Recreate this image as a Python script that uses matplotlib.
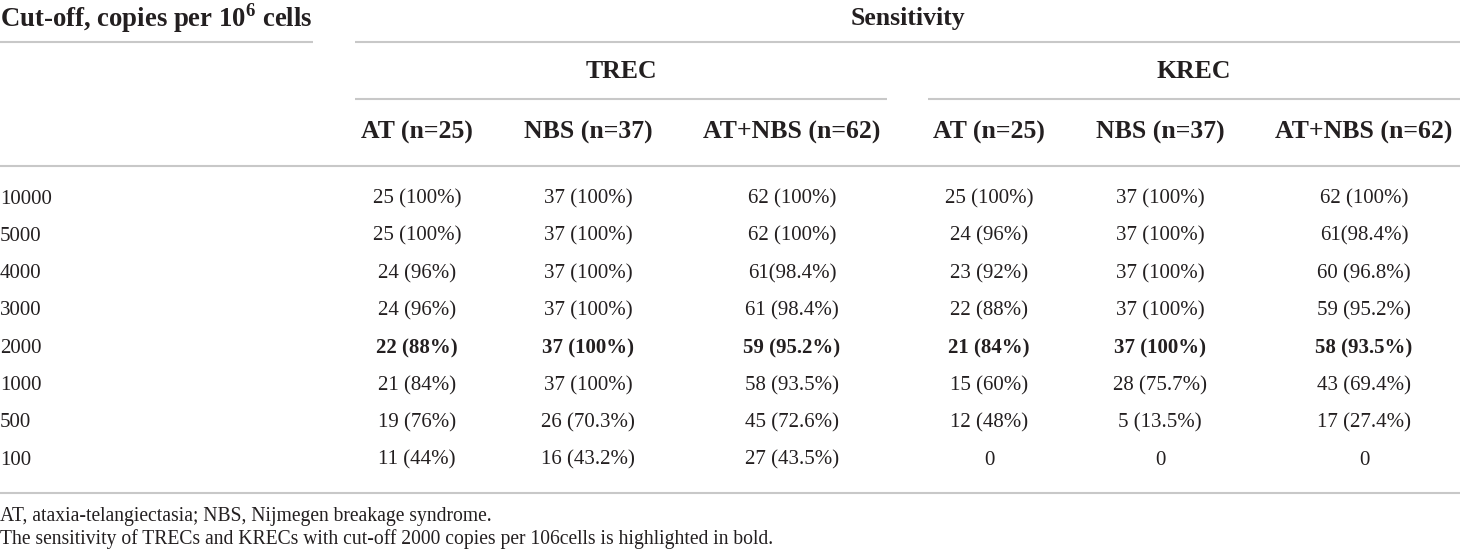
import matplotlib
matplotlib.use("Agg")
import matplotlib.pyplot as plt

plt.rcParams['font.family'] = ['Liberation Serif', 'DejaVu Serif']
plt.rcParams['mathtext.fontset'] = 'custom'
plt.rcParams['mathtext.rm'] = 'Liberation Serif'
plt.rcParams['mathtext.bf'] = 'Liberation Serif:bold'

# table data
cutoffs = ['10000', '5000', '4000', '3000', '2000', '1000', '500', '100']
groups = ['TREC', 'KREC']
col_labels = ['AT (n=25)', 'NBS (n=37)', 'AT+NBS (n=62)',
              'AT (n=25)', 'NBS (n=37)', 'AT+NBS (n=62)']
trec_at = ['25 (100%)', '25 (100%)', '24 (96%)', '24 (96%)', '22 (88%)', '21 (84%)', '19 (76%)', '11 (44%)']
trec_nbs = ['37 (100%)', '37 (100%)', '37 (100%)', '37 (100%)', '37 (100%)', '37 (100%)', '26 (70.3%)', '16 (43.2%)']
trec_all = ['62 (100%)', '62 (100%)', '61(98.4%)', '61 (98.4%)', '59 (95.2%)', '58 (93.5%)', '45 (72.6%)', '27 (43.5%)']
krec_at = ['25 (100%)', '24 (96%)', '23 (92%)', '22 (88%)', '21 (84%)', '15 (60%)', '12 (48%)', '0']
krec_nbs = ['37 (100%)', '37 (100%)', '37 (100%)', '37 (100%)', '37 (100%)', '28 (75.7%)', '5 (13.5%)', '0']
krec_all = ['62 (100%)', '61(98.4%)', '60 (96.8%)', '59 (95.2%)', '58 (93.5%)', '43 (69.4%)', '17 (27.4%)', '0']
bold_row = '2000'
footnotes = ['AT, ataxia-telangiectasia; NBS, Nijmegen breakage syndrome.',
             'The sensitivity of TRECs and KRECs with cut-off 2000 copies per 106cells is highlighted in bold.']

columns = [trec_at, trec_nbs, trec_all, krec_at, krec_nbs, krec_all]

W, H = 1460, 553
fig = plt.figure(figsize=(W / 100, H / 100), dpi=100)
ax = fig.add_axes([0, 0, 1, 1])
ax.set_xlim(0, W)
ax.set_ylim(H, 0)
ax.axis('off')

line_kw = dict(color='#c8c8c8', lw=1.5, solid_capstyle='butt')
txt = '#231f20'

col_x = [417, 588, 792, 989, 1160, 1364]
group_span = [(355, 887), (928, 1460)]
row_y0, row_dy = 199, 37.3

# top header
ax.text(0, 18, r'Cut-off, copies per 10$^{\mathbf{6}}$ cells', fontsize=19.3,
        fontweight='bold', ha='left', va='center', color=txt)
ax.text((355 + W) / 2, 18, 'Sensitivity', fontsize=18.5, fontweight='bold',
        ha='center', va='center', color=txt)
ax.plot([0, 313], [42, 42], **line_kw)
ax.plot([355, W], [42, 42], **line_kw)

for g, (x0, x1) in zip(groups, group_span):
    ax.text((x0 + x1) / 2, 72, g, fontsize=18.5, fontweight='bold',
            ha='center', va='center', color=txt)
    ax.plot([x0, x1], [99, 99], **line_kw)

for x, lab in zip(col_x, col_labels):
    ax.text(x, 132, lab, fontsize=18.5, fontweight='bold',
            ha='center', va='center', color=txt)
ax.plot([0, W], [166, 166], **line_kw)

for i, c in enumerate(cutoffs):
    y = row_y0 + i * row_dy
    w = 'bold' if c == bold_row else 'normal'
    ax.text(0, y, c, fontsize=15, ha='left', va='center', color=txt)
    for x, col in zip(col_x, columns):
        ax.text(x, y, col[i], fontsize=15, fontweight=w,
                ha='center', va='center', color=txt)

ax.plot([0, W], [493, 493], **line_kw)

for j, f in enumerate(footnotes):
    ax.text(0, 516 + j * 23, f, fontsize=14.1, ha='left', va='center', color=txt)

fig.savefig('out.png', dpi=100)
